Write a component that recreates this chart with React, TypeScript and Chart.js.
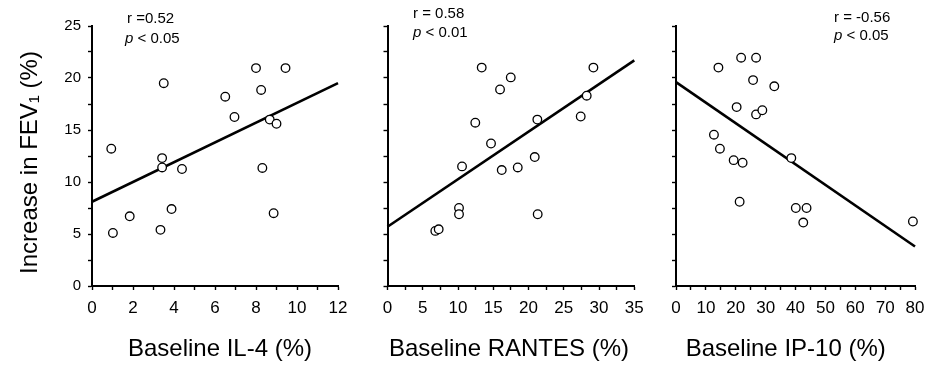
import React, { useEffect, useRef } from "react";
import { Chart, registerables } from "chart.js";
Chart.register(...registerables);

// ---------- data ----------
const yAxisTitle = "Increase in FEV\u2081 (%)";

const il4X = [0.94, 1.02, 1.84, 3.5, 3.42, 3.42, 3.34, 3.88, 4.39, 6.5, 6.95, 8.0, 8.25, 8.31, 8.67, 9.0, 8.86, 9.44];
const il4Y = [13.2, 5.1, 6.7, 19.5, 12.3, 11.4, 5.4, 7.4, 11.25, 18.2, 16.25, 20.95, 18.85, 11.35, 16.0, 15.6, 7.0, 20.95];
const il4FitX = [0, 12];
const il4FitY = [8.1, 19.5];

const rantesX = [13.36, 17.48, 15.96, 29.2, 28.25, 27.4, 21.25, 12.45, 14.68, 10.57, 16.2, 18.47, 20.88, 10.14, 10.14, 21.3, 6.78, 7.26];
const rantesY = [21.0, 20.06, 18.9, 21.0, 18.3, 16.3, 16.0, 15.7, 13.7, 11.5, 11.15, 11.4, 12.4, 7.5, 6.9, 6.9, 5.3, 5.45];
const rantesFitX = [0, 35];
const rantesFitY = [5.7, 21.7];

const ip10X = [14.2, 21.8, 26.8, 25.8, 32.9, 20.3, 26.8, 28.9, 12.7, 14.7, 19.3, 22.3, 38.6, 21.3, 40.1, 43.7, 42.6, 79.3];
const ip10Y = [21.0, 21.95, 21.95, 19.8, 19.2, 17.2, 16.5, 16.9, 14.55, 13.2, 12.1, 11.85, 12.3, 8.1, 7.5, 7.5, 6.1, 6.2];
const ip10FitX = [0, 80];
const ip10FitY = [19.6, 3.8];

const xTitles = ["Baseline IL-4 (%)", "Baseline RANTES (%)", "Baseline IP-10 (%)"];
const rTexts = ["r =0.52", "r = 0.58", "r = -0.56"];
const pTexts = [" < 0.05", " < 0.01", " < 0.05"];

const yMin = 0;
const yMax = 25;
const yStep = 2.5;
const yLabelEvery = 5;

// ---------- layout ----------
const H = 365;
const AREA_TOP = 26;
const AREA_BOTTOM = 286;
const FONT = "'Liberation Sans', Arial, Helvetica, sans-serif";

type Seg = { t: string; italic?: boolean };
type TextItem = { segs: Seg[]; x: number; y: number; size: number; align: "left" | "center"; rotate?: boolean };

interface PanelCfg {
  left: number;
  width: number;
  areaLeft: number;
  areaRight: number;
  xs: number[];
  ys: number[];
  fitX: number[];
  fitY: number[];
  xMax: number;
  xStep: number;
  xLabelEvery: number;
  yLabels: boolean;
  texts: TextItem[];
}

const pairs = (xs: number[], ys: number[]) => xs.map((x, i) => ({ x, y: ys[i] }));
const isMultiple = (v: number, m: number) => Math.abs(v / m - Math.round(v / m)) < 1e-6;

const panels: PanelCfg[] = [
  {
    left: 0, width: 360, areaLeft: 92, areaRight: 338,
    xs: il4X, ys: il4Y, fitX: il4FitX, fitY: il4FitY,
    xMax: 12, xStep: 1, xLabelEvery: 2, yLabels: true,
    texts: [
      { segs: [{ t: yAxisTitle }], x: 37, y: 162.5, size: 24, align: "center", rotate: true },
      { segs: [{ t: xTitles[0] }], x: 220, y: 356, size: 24, align: "center" },
      { segs: [{ t: rTexts[0] }], x: 127, y: 22.5, size: 15, align: "left" },
      { segs: [{ t: "p", italic: true }, { t: pTexts[0] }], x: 125, y: 43, size: 15, align: "left" },
    ],
  },
  {
    left: 350, width: 300, areaLeft: 387.5, areaRight: 634.3,
    xs: rantesX, ys: rantesY, fitX: rantesFitX, fitY: rantesFitY,
    xMax: 35, xStep: 2.5, xLabelEvery: 5, yLabels: false,
    texts: [
      { segs: [{ t: xTitles[1] }], x: 509, y: 356, size: 24, align: "center" },
      { segs: [{ t: rTexts[1] }], x: 413, y: 18, size: 15, align: "left" },
      { segs: [{ t: "p", italic: true }, { t: pTexts[1] }], x: 413, y: 37, size: 15, align: "left" },
    ],
  },
  {
    left: 640, width: 288, areaLeft: 676, areaRight: 915,
    xs: ip10X, ys: ip10Y, fitX: ip10FitX, fitY: ip10FitY,
    xMax: 80, xStep: 5, xLabelEvery: 10, yLabels: false,
    texts: [
      { segs: [{ t: xTitles[2] }], x: 785.7, y: 356, size: 24, align: "center" },
      { segs: [{ t: rTexts[2] }], x: 834, y: 21.7, size: 15, align: "left" },
      { segs: [{ t: "p", italic: true }, { t: pTexts[2] }], x: 834, y: 40, size: 15, align: "left" },
    ],
  },
];

function drawText(ctx: CanvasRenderingContext2D, item: TextItem, offsetX: number) {
  ctx.save();
  ctx.fillStyle = "#000";
  ctx.textBaseline = "alphabetic";
  ctx.textAlign = "left";
  const fontFor = (s: Seg) => `${s.italic ? "italic " : ""}${item.size}px ${FONT}`;
  let total = 0;
  for (const s of item.segs) {
    ctx.font = fontFor(s);
    total += ctx.measureText(s.t).width;
  }
  ctx.translate(item.x - offsetX, item.y);
  if (item.rotate) ctx.rotate(-Math.PI / 2);
  let cx = item.align === "center" ? -total / 2 : 0;
  for (const s of item.segs) {
    ctx.font = fontFor(s);
    ctx.fillText(s.t, cx, 0);
    cx += ctx.measureText(s.t).width;
  }
  ctx.restore();
}

function Panel({ cfg }: { cfg: PanelCfg }) {
  const ref = useRef<HTMLCanvasElement | null>(null);
  useEffect(() => {
    if (!ref.current) return;
    const zeroPad = (s: any) => {
      s.paddingLeft = 0;
      s.paddingRight = 0;
      s.paddingTop = 0;
      s.paddingBottom = 0;
    };
    const textPlugin = {
      id: "panelText",
      afterDraw(chart: any) {
        for (const t of cfg.texts) drawText(chart.ctx, t, cfg.left);
      },
    };
    const chart = new Chart(ref.current, {
      type: "scatter",
      data: {
        datasets: [
          {
            type: "scatter",
            data: pairs(cfg.xs, cfg.ys),
            pointRadius: 4.3,
            pointHoverRadius: 4.3,
            pointBackgroundColor: "#fff",
            pointBorderColor: "#000",
            pointBorderWidth: 1.3,
            clip: false as any,
            order: 0,
          } as any,
          {
            type: "line",
            data: pairs(cfg.fitX, cfg.fitY),
            borderColor: "#000",
            borderWidth: 2.6,
            pointRadius: 0,
            showLine: true,
            fill: false,
            clip: false as any,
            order: 1,
          } as any,
        ],
      },
      options: {
        animation: false,
        responsive: false,
        events: [],
        layout: {
          padding: { left: 0, top: AREA_TOP, right: cfg.width - (cfg.areaRight - cfg.left), bottom: 0 },
        },
        plugins: { legend: { display: false }, tooltip: { enabled: false }, title: { display: false } },
        scales: {
          x: {
            type: "linear",
            position: "bottom",
            min: 0,
            max: cfg.xMax,
            afterFit: (s: any) => {
              s.height = H - AREA_BOTTOM;
              zeroPad(s);
            },
            ticks: {
              stepSize: cfg.xStep,
              autoSkip: false,
              maxRotation: 0,
              padding: 8,
              color: "#000",
              font: { size: 17, family: FONT },
              callback: (v: any) => (isMultiple(Number(v), cfg.xLabelEvery) ? String(v) : ""),
            },
            grid: {
              drawOnChartArea: false,
              drawTicks: true,
              tickLength: 4,
              tickColor: "#000",
              tickWidth: 1.4,
            },
            border: { display: true, color: "#000", width: 2 },
          },
          y: {
            type: "linear",
            position: "left",
            min: yMin,
            max: yMax,
            afterFit: (s: any) => {
              s.width = cfg.areaLeft - cfg.left;
              zeroPad(s);
            },
            ticks: {
              stepSize: yStep,
              autoSkip: false,
              padding: 7,
              color: "#000",
              font: { size: 15, family: FONT },
              callback: (v: any) => (cfg.yLabels && isMultiple(Number(v), yLabelEvery) ? String(v) : ""),
            },
            grid: {
              drawOnChartArea: false,
              drawTicks: true,
              tickLength: 4,
              tickColor: "#000",
              tickWidth: 1.4,
            },
            border: { display: true, color: "#000", width: 2 },
          },
        },
      } as any,
      plugins: [textPlugin],
    });
    return () => chart.destroy();
  }, [cfg]);
  return (
    <canvas
      ref={ref}
      width={cfg.width}
      height={H}
      style={{ position: "absolute", left: cfg.left, top: 0, width: cfg.width, height: H }}
    />
  );
}

export default function App() {
  return (
    <div style={{ position: "fixed", left: 0, top: 0, width: 928, height: H, background: "#fff" }}>
      {panels.map((p, i) => (
        <Panel key={i} cfg={p} />
      ))}
    </div>
  );
}
